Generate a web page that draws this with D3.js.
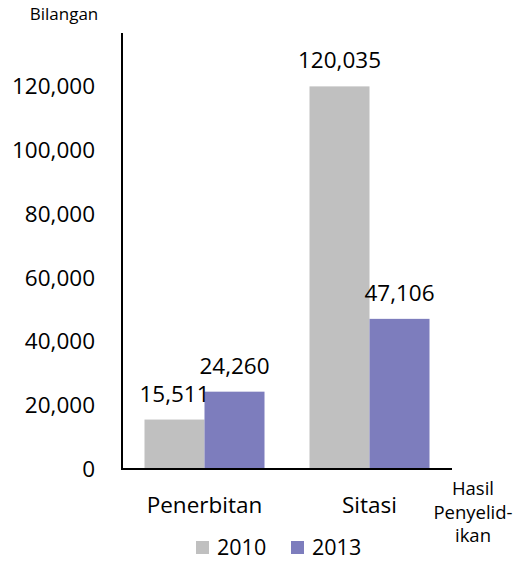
<!DOCTYPE html>
<html>
<head>
<meta charset="utf-8">
<script src="https://cdn.jsdelivr.net/npm/d3@7"></script>
<style>
  body { margin: 0; background: #fff; }
  text { font-family: "Open Sans", sans-serif; fill: #000; }
</style>
</head>
<body>
<svg id="chart"></svg>
<script>
const categories = ["Penerbitan", "Sitasi"];
const years = ["2010", "2013"];
const values2010 = [15511, 120035];
const values2013 = [24260, 47106];
const yTicks = [0, 20000, 40000, 60000, 80000, 100000, 120000];
const colors = ["#c0c0c0", "#7d7dbd"];

const width = 519, height = 562;
const svg = d3.select("#chart").attr("width", width).attr("height", height);

const x0 = 122, x1 = 452, yBase = 469;

const x = d3.scaleBand()
  .domain(categories)
  .range([x0, x1])
  .paddingInner(45 / 165)
  .paddingOuter(22.5 / 165);

const xInner = d3.scaleBand()
  .domain(years)
  .range([0, x.bandwidth()]);

const y = d3.scaleLinear()
  .domain([0, 120000])
  .range([yBase, 86.5]);

const fmt = d3.format(",");

// y tick labels
svg.append("g")
  .selectAll("text")
  .data(yTicks)
  .enter().append("text")
  .attr("x", 95)
  .attr("y", d => y(d))
  .attr("dy", "0.35em")
  .attr("text-anchor", "end")
  .attr("font-size", 22.5)
  .text(d => fmt(d));

// bars
const rows = categories.map((c, i) => ({ cat: c, vals: [values2010[i], values2013[i]] }));

const group = svg.append("g")
  .selectAll("g")
  .data(rows)
  .enter().append("g")
  .attr("transform", d => `translate(${x(d.cat)},0)`);

group.selectAll("rect")
  .data(d => d.vals.map((v, j) => ({ year: years[j], v, j })))
  .enter().append("rect")
  .attr("x", d => xInner(d.year))
  .attr("width", xInner.bandwidth())
  .attr("y", d => y(d.v))
  .attr("height", d => yBase - y(d.v))
  .attr("fill", d => colors[d.j]);

group.selectAll("text")
  .data(d => d.vals.map((v, j) => ({ year: years[j], v, j })))
  .enter().append("text")
  .attr("x", d => xInner(d.year) + xInner.bandwidth() / 2)
  .attr("y", d => y(d.v) - 18)
  .attr("text-anchor", "middle")
  .attr("font-size", 22.5)
  .text(d => fmt(d.v));

// axes lines
svg.append("line")
  .attr("x1", x0).attr("x2", x0)
  .attr("y1", 33).attr("y2", yBase + 1)
  .attr("stroke", "#000").attr("stroke-width", 2);
svg.append("line")
  .attr("x1", x0 - 1).attr("x2", x1)
  .attr("y1", yBase).attr("y2", yBase)
  .attr("stroke", "#000").attr("stroke-width", 2);

// category labels
svg.append("g")
  .selectAll("text")
  .data(categories)
  .enter().append("text")
  .attr("x", d => x(d) + x.bandwidth() / 2)
  .attr("y", 513)
  .attr("text-anchor", "middle")
  .attr("font-size", 22.5)
  .text(d => d);

// axis titles
svg.append("text")
  .attr("x", 64).attr("y", 20)
  .attr("text-anchor", "middle")
  .attr("font-size", 17)
  .text("Bilangan");

const xt = svg.append("text")
  .attr("text-anchor", "middle")
  .attr("font-size", 18.5);
["Hasil", "Penyelid-", "ikan"].forEach((s, i) => {
  xt.append("tspan").attr("x", 473).attr("y", 495 + i * 23.5).text(s);
});

// legend
const legend = svg.append("g")
  .selectAll("g")
  .data(years)
  .enter().append("g")
  .attr("transform", (d, i) => `translate(${196 + i * 95},541)`);
legend.append("rect")
  .attr("width", 13).attr("height", 13)
  .attr("fill", (d, i) => colors[i]);
legend.append("text")
  .attr("x", 21).attr("y", 14)
  .attr("font-size", 21.5)
  .text(d => d);
</script>
</body>
</html>
